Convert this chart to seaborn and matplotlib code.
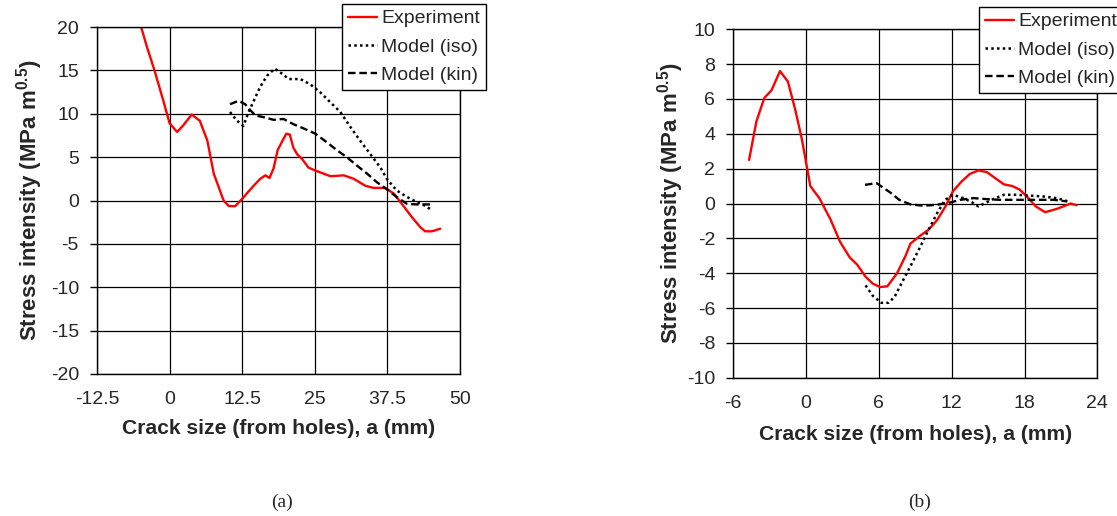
import numpy as np
import pandas as pd
import matplotlib
matplotlib.use("Agg")
import matplotlib.pyplot as plt
import seaborn as sns

# ---------------- data (a) ----------------
a_exp_x = [-4.9, -3.9, -2.6, -1.6, -1.0, 0.0, 1.3, 2.4, 3.8, 5.2, 6.5, 7.6, 8.7, 9.3, 10.2,
           11.3, 12.5, 14.2, 15.6, 16.5, 17.2, 17.9, 18.6, 19.6, 20.1, 20.7, 21.3, 22.0,
           22.8, 23.9, 25.1, 27.7, 30.0, 31.7, 33.7, 35.1, 37.1, 38.6, 40.0, 41.7, 43.2,
           44.0, 45.2, 46.6]
a_exp_y = [20.0, 17.7, 15.0, 12.7, 11.3, 8.9, 7.9, 8.7, 9.9, 9.2, 6.9, 3.1, 1.1, 0.0, -0.65,
           -0.65, 0.2, 1.5, 2.5, 2.9, 2.6, 3.7, 5.8, 7.1, 7.7, 7.6, 6.1, 5.3,
           4.8, 3.8, 3.45, 2.8, 2.9, 2.5, 1.7, 1.45, 1.45, 0.8, -0.4, -1.9, -3.1,
           -3.55, -3.55, -3.25]

a_iso_x = [10.4, 11.6, 12.7, 13.6, 14.5, 15.6, 16.8, 18.1, 19.4, 20.5, 22.5, 24.2, 25.9,
           27.7, 29.4, 31.1, 32.8, 34.5, 36.3, 37.4, 39.1, 40.9, 42.6, 44.0, 45.2]
a_iso_y = [10.2, 9.2, 8.6, 10.2, 11.5, 13.1, 14.4, 15.2, 14.6, 14.0, 14.0, 13.4, 12.5,
           11.3, 10.2, 8.5, 6.9, 5.4, 3.8, 2.5, 1.15, 0.4, -0.2, -0.6, -1.15]

a_kin_x = [10.4, 11.9, 13.0, 13.9, 14.8, 16.2, 17.9, 19.6, 21.3, 23.1, 25.1, 27.1, 28.8,
           30.5, 32.3, 34.0, 35.7, 37.4, 39.1, 40.9, 42.6, 44.3, 45.3]
a_kin_y = [11.1, 11.5, 11.1, 10.4, 9.8, 9.6, 9.3, 9.4, 8.8, 8.3, 7.7, 6.7, 5.8,
           5.0, 4.0, 3.1, 2.1, 1.3, 0.4, -0.4, -0.45, -0.45, -0.45]

# ---------------- data (b) ----------------
b_exp_x = [-4.7, -4.1, -3.45, -2.85, -2.15, -1.5, -0.9, -0.35, 0.35, 1.1, 2.0, 2.8, 3.6,
           4.2, 4.9, 5.5, 6.1, 6.7, 7.5, 8.2, 8.6, 9.4, 10.1, 10.8, 11.5, 12.1, 12.8,
           13.5, 14.2, 14.9, 15.6, 16.3, 17.0, 17.6, 18.2, 18.9, 19.7, 20.7, 21.8, 22.3]
b_exp_y = [2.5, 4.7, 6.05, 6.5, 7.6, 7.0, 5.4, 3.7, 1.0, 0.3, -0.9, -2.2, -3.1,
           -3.5, -4.2, -4.6, -4.8, -4.75, -4.0, -3.0, -2.3, -1.85, -1.5, -0.95, -0.15, 0.7, 1.25,
           1.7, 1.9, 1.8, 1.45, 1.1, 1.0, 0.8, 0.4, -0.15, -0.5, -0.3, 0.0, -0.1]

b_iso_x = [4.9, 5.5, 6.2, 6.8, 7.3, 8.0, 8.6, 9.4, 10.1, 10.8, 11.45, 12.1, 13.0, 13.8,
           14.2, 14.75, 15.4, 16.3, 17.4, 18.5, 19.6, 20.7, 21.6]
b_iso_y = [-4.7, -5.3, -5.7, -5.7, -5.35, -4.4, -3.6, -2.5, -1.5, -0.55, 0.2, 0.5, 0.3, 0.02,
           -0.17, 0.02, 0.25, 0.5, 0.5, 0.45, 0.4, 0.3, 0.12]

b_kin_x = [4.85, 5.8, 6.9, 7.7, 8.6, 9.7, 10.8, 11.9, 12.7, 13.8, 14.9, 16.0, 17.1,
           18.2, 19.3, 20.4, 21.5]
b_kin_y = [1.07, 1.17, 0.65, 0.2, -0.05, -0.13, -0.07, 0.06, 0.21, 0.31, 0.25, 0.21, 0.21,
           0.21, 0.21, 0.21, 0.12]

a_xticks = [-12.5, 0, 12.5, 25, 37.5, 50]
a_yticks = [-20, -15, -10, -5, 0, 5, 10, 15, 20]
b_xticks = [-6, 0, 6, 12, 18, 24]
b_yticks = [-10, -8, -6, -4, -2, 0, 2, 4, 6, 8, 10]

series_names = ["Experiment", "Model (iso)", "Model (kin)"]
panel_labels = ["(a)", "(b)"]

# ---------------- style ----------------
sns.set_theme(style="white")
plt.rcParams['font.family'] = ['Liberation Sans', 'DejaVu Sans']
plt.rcParams['mathtext.fontset'] = 'custom'
plt.rcParams['mathtext.rm'] = 'Liberation Sans'
plt.rcParams['mathtext.bf'] = 'Liberation Sans:bold'

W, H = 1117, 516
fig = plt.figure(figsize=(W / 100, H / 100), dpi=100)
fig.patch.set_facecolor('white')

ax_a = fig.add_axes([97 / W, (H - 374) / H, 363 / W, 347 / H])
ax_b = fig.add_axes([733.3 / W, (H - 377.7) / H, 364 / W, 348.4 / H])

styles = [
    dict(color='#ff0000', lw=1.7, linestyle='-'),
    dict(color='black', lw=1.8, linestyle=(0, (1, 1.3))),
    dict(color='black', lw=1.7, linestyle=(0, (3.2, 1.6))),
]


def draw_panel(ax, series, xlim, ylim, xticks, yticks, legend_xy, xpad, ylpad):
    for (xs, ys), name, st in zip(series, series_names, styles):
        df = pd.DataFrame({"x": xs, "y": ys})
        sns.lineplot(data=df, x="x", y="y", ax=ax, sort=False, estimator=None,
                     color=st['color'], lw=st['lw'], linestyle=st['linestyle'],
                     label=name, legend=False)
    ax.set_xlim(*xlim)
    ax.set_ylim(*ylim)
    ax.set_xticks(xticks)
    ax.set_yticks(yticks)
    ax.set_xticklabels([f"{t:g}" for t in xticks])
    ax.set_yticklabels([f"{t:g}" for t in yticks])
    ax.grid(True, color='black', lw=0.9)
    ax.set_axisbelow(True)
    for s in ax.spines.values():
        s.set_color('black')
        s.set_linewidth(1.0)
        s.set_visible(True)
    ax.tick_params(axis='y', which='major', direction='out', length=5, width=1,
                   color='black', labelsize=14, pad=8, left=True)
    ax.tick_params(axis='x', which='major', length=0, labelsize=14, pad=12.5, bottom=True)
    ax.set_xlabel("Crack size (from holes), a (mm)", fontsize=15.2, fontweight='bold', labelpad=xpad)
    ax.set_ylabel(r"Stress intensity (MPa m$^{\mathbf{0.5}}$)", fontsize=16, fontweight='bold',
                  labelpad=ylpad)
    h, l = ax.get_legend_handles_labels()
    leg = fig.legend(h, l, loc='upper left', bbox_to_anchor=legend_xy,
                     bbox_transform=fig.transFigure, frameon=True, fancybox=False,
                     edgecolor='black', framealpha=1, fontsize=14, handlelength=1.5,
                     handletextpad=0.2, labelspacing=0.55, borderpad=0.3, borderaxespad=0)
    leg.get_frame().set_linewidth(1.0)


draw_panel(ax_a, [(a_exp_x, a_exp_y), (a_iso_x, a_iso_y), (a_kin_x, a_kin_y)],
           (-12.5, 50), (-20, 20), a_xticks, a_yticks, (342 / W, 1 - 4 / H), 8, 4)
draw_panel(ax_b, [(b_exp_x, b_exp_y), (b_iso_x, b_iso_y), (b_kin_x, b_kin_y)],
           (-6, 24), (-10, 10), b_xticks, b_yticks, (979 / W, 1 - 7 / H), 9.5, 1)

fig.text(282 / W, 1 - 502 / H, panel_labels[0], ha='center', va='center',
         fontsize=14, family=['Liberation Serif', 'DejaVu Serif'])
fig.text(920 / W, 1 - 502 / H, panel_labels[1], ha='center', va='center',
         fontsize=14, family=['Liberation Serif', 'DejaVu Serif'])

fig.savefig("out.png", dpi=100, facecolor='white')
